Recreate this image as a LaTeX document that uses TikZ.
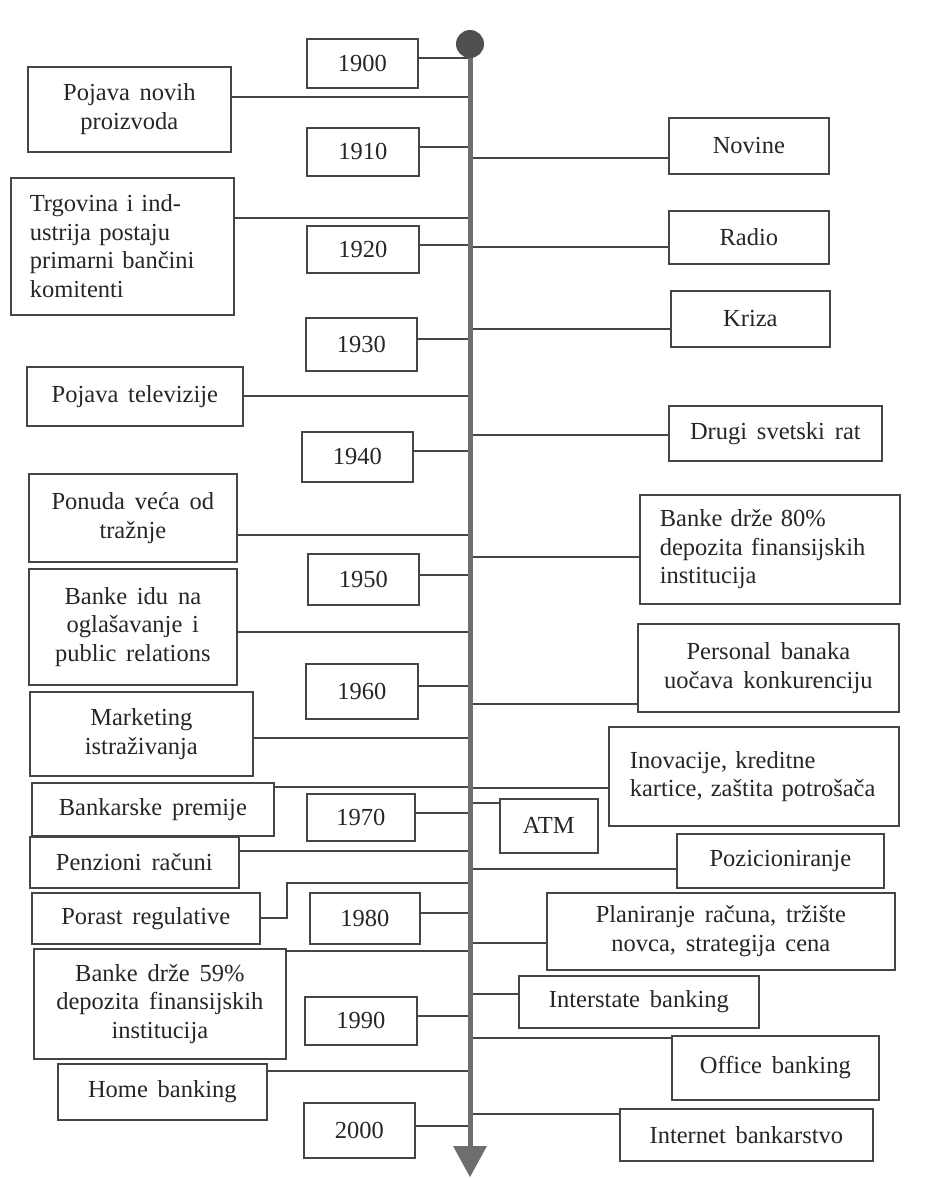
\documentclass[tikz,border=0pt]{standalone}
\usepackage{fontspec}
\setmainfont{Liberation Serif}[WordSpace=1.6]
\definecolor{inkline}{HTML}{454545}
\definecolor{inktext}{HTML}{262626}
\definecolor{axisgray}{HTML}{6E6E6E}
\definecolor{ballgray}{HTML}{505050}
\begin{document}
\begin{tikzpicture}[x=1pt,y=-1pt,
  box/.style={draw=inkline, line width=1.7pt, anchor=north west, inner sep=0pt,
    align=center, text=inktext, font=\fontsize{24.5}{28.5}\selectfont},
  conn/.style={draw=inkline, line width=1.7pt}]
\useasboundingbox[fill=white] (0,0) rectangle (927,1178);

% timeline axis
\coordinate (top) at (470,44);
\coordinate (axis) at (470,0);
\coordinate (tip) at (470,1177);

% decade boxes
\node[box, minimum width=111pt, minimum height=49pt] (y1900) at (306,38) {1900};
\node[box, minimum width=112pt, minimum height=48pt] (y1910) at (306,127) {1910};
\node[box, minimum width=112pt, minimum height=47pt] (y1920) at (306,225) {1920};
\node[box, minimum width=111pt, minimum height=53pt] (y1930) at (305,317) {1930};
\node[box, minimum width=111pt, minimum height=50pt] (y1940) at (301,431) {1940};
\node[box, minimum width=111pt, minimum height=51pt] (y1950) at (307,553) {1950};
\node[box, minimum width=112pt, minimum height=55pt] (y1960) at (305,663) {1960};
\node[box, minimum width=108pt, minimum height=47pt] (y1970) at (306,793) {1970};
\node[box, minimum width=110pt, minimum height=51pt] (y1980) at (309,892) {1980};
\node[box, minimum width=112pt, minimum height=48pt] (y1990) at (304,996) {1990};
\node[box, minimum width=111pt, minimum height=55pt] (y2000) at (303,1102) {2000};

% events on the left
\node[box, minimum width=203pt, minimum height=85pt] (pnp) at (27,66) {Pojava novih\\proizvoda};
\node[box, minimum width=223pt, minimum height=137pt, inner xsep=19pt, text width=185pt, align=left] (trg) at (10,177) {Trgovina i ind-\\ustrija postaju\\primarni bančini\\komitenti};
\node[box, minimum width=216pt, minimum height=59pt] (tv) at (26,366) {Pojava televizije};
\node[box, minimum width=208pt, minimum height=88pt] (pon) at (28,473) {Ponuda veća od\\tražnje};
\node[box, minimum width=208pt, minimum height=116pt] (oglas) at (28,568) {Banke idu na\\oglašavanje i\\public relations};
\node[box, minimum width=223pt, minimum height=84pt] (mkt) at (29,691) {Marketing\\istraživanja};
\node[box, minimum width=242pt, minimum height=53pt] (prem) at (31,782) {Bankarske premije};
\node[box, minimum width=209pt, minimum height=51pt] (penz) at (29,836) {Penzioni računi};
\node[box, minimum width=228pt, minimum height=51pt] (reg) at (31,892) {Porast regulative};
\node[box, minimum width=252pt, minimum height=110pt] (b59) at (33,948) {Banke drže 59\%\\depozita finansijskih\\institucija};
\node[box, minimum width=209pt, minimum height=56pt] (home) at (57,1063) {Home banking};

% events on the right
\node[box, minimum width=160pt, minimum height=56pt] (novine) at (668,117) {Novine};
\node[box, minimum width=160pt, minimum height=53pt] (radio) at (668,210) {Radio};
\node[box, minimum width=159pt, minimum height=56pt] (kriza) at (670,290) {Kriza};
\node[box, minimum width=213pt, minimum height=55pt] (rat) at (668,405) {Drugi svetski rat};
\node[box, minimum width=260pt, minimum height=109pt, inner xsep=20pt, text width=220pt, align=left] (b80) at (639,494) {Banke drže 80\%\\depozita finansijskih\\institucija};
\node[box, minimum width=261pt, minimum height=88pt] (pers) at (637,623) {Personal banaka\\uočava konkurenciju};
\node[box, minimum width=290pt, minimum height=99pt, inner xsep=21pt, text width=248pt, align=left] (inov) at (608,726) {Inovacije, kreditne\\kartice, zaštita potrošača\\[6pt]};
\node[box, minimum width=98pt, minimum height=54pt] (atm) at (499,798) {ATM};
\node[box, minimum width=207pt, minimum height=54pt] (poz) at (676,833) {Pozicioniranje};
\node[box, minimum width=348pt, minimum height=77pt] (plan) at (546,892) {Planiranje računa, tržište\\novca, strategija cena};
\node[box, minimum width=240pt, minimum height=52pt] (inter) at (518,975) {Interstate banking};
\node[box, minimum width=207pt, minimum height=64pt] (office) at (671,1035) {Office banking};
\node[box, minimum width=253pt, minimum height=52pt] (inet) at (619,1108) {Internet bankarstvo};

% connectors: decades
\draw[conn] (y1900.east |- 0,58) -- (axis |- 0,58);
\draw[conn] (y1910.east |- 0,147) -- (axis |- 0,147);
\draw[conn] (y1920.east |- 0,245) -- (axis |- 0,245);
\draw[conn] (y1930.east |- 0,339) -- (axis |- 0,339);
\draw[conn] (y1940.east |- 0,451) -- (axis |- 0,451);
\draw[conn] (y1950.east |- 0,575) -- (axis |- 0,575);
\draw[conn] (y1960.east |- 0,686) -- (axis |- 0,686);
\draw[conn] (y1970.east |- 0,813) -- (axis |- 0,813);
\draw[conn] (y1980.east |- 0,913) -- (axis |- 0,913);
\draw[conn] (y1990.east |- 0,1016) -- (axis |- 0,1016);
\draw[conn] (y2000.east |- 0,1126) -- (axis |- 0,1126);

% connectors: left events
\draw[conn] (pnp.east |- 0,97) -- (axis |- 0,97);
\draw[conn] (trg.east |- 0,218) -- (axis |- 0,218);
\draw[conn] (tv.east |- 0,396) -- (axis |- 0,396);
\draw[conn] (pon.east |- 0,535) -- (axis |- 0,535);
\draw[conn] (oglas.east |- 0,632) -- (axis |- 0,632);
\draw[conn] (mkt.east |- 0,738) -- (axis |- 0,738);
\draw[conn] (prem.east |- 0,787) -- (axis |- 0,787);
\draw[conn] (penz.east |- 0,851) -- (axis |- 0,851);
\draw[conn] (reg.east |- 0,918) -- (287,918) -- (287,883) -- (axis |- 0,883);
\draw[conn] (b59.east |- 0,951) -- (axis |- 0,951);
\draw[conn] (home.east |- 0,1071) -- (axis |- 0,1071);

% connectors: right events
\draw[conn] (axis |- 0,158) -- (novine.west |- 0,158);
\draw[conn] (axis |- 0,247) -- (radio.west |- 0,247);
\draw[conn] (axis |- 0,329) -- (kriza.west |- 0,329);
\draw[conn] (axis |- 0,435) -- (rat.west |- 0,435);
\draw[conn] (axis |- 0,557) -- (b80.west |- 0,557);
\draw[conn] (axis |- 0,704) -- (pers.west |- 0,704);
\draw[conn] (axis |- 0,788) -- (inov.west |- 0,788);
\draw[conn] (axis |- 0,803) -- (atm.west |- 0,803);
\draw[conn] (axis |- 0,869) -- (poz.west |- 0,869);
\draw[conn] (axis |- 0,943) -- (plan.west |- 0,943);
\draw[conn] (axis |- 0,994) -- (inter.west |- 0,994);
\draw[conn] (axis |- 0,1038) -- (office.west |- 0,1038);
\draw[conn] (axis |- 0,1114) -- (inet.west |- 0,1114);

% the axis itself, with its ball and arrowhead
\draw[axisgray, line width=5pt] (top) -- (470,1147);
\fill[axisgray] (453,1146) -- (487,1146) -- (tip) -- cycle;
\fill[ballgray] (top) circle (14pt);
\end{tikzpicture}
\end{document}
